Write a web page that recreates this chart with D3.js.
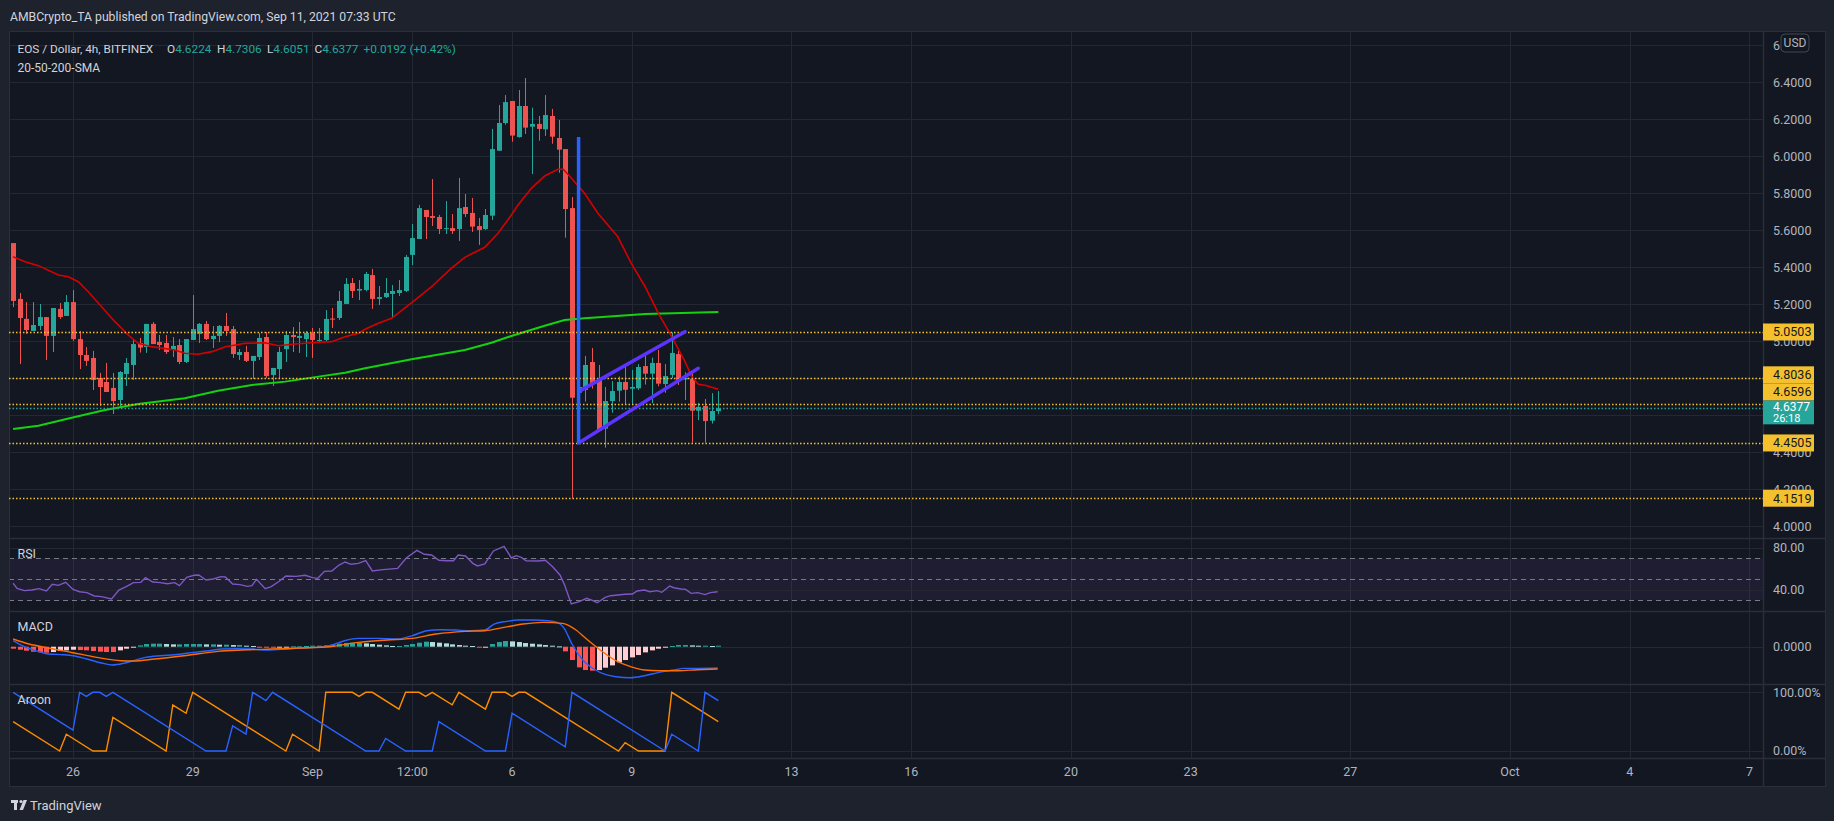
<!DOCTYPE html>
<html><head><meta charset="utf-8">
<script src="https://cdn.jsdelivr.net/npm/d3@7"></script>
<style>
html,body{margin:0;padding:0;background:#1e222d;overflow:hidden}
svg{display:block}
text{font-family:Roboto,"Noto Sans",sans-serif}
</style></head><body>
<svg id="c" width="1834" height="821"></svg>
<script>
// ---------------- DATA ----------------
const firstCandle = Date.UTC(2021, 7, 24, 12); // Aug 24 12:00 UTC, 4h candles
const opens = [5.531,5.229,5.121,5.056,5.083,5.131,5.029,5.175,5.137,5.212,
5.012,4.926,4.910,4.802,4.780,4.748,4.683,4.823,4.872,4.991,
4.969,5.094,4.996,4.991,4.953,4.980,4.888,5.007,5.040,5.094,
5.012,5.029,5.083,5.066,4.926,4.942,4.894,4.915,5.023,4.818,
4.850,4.958,5.034,5.018,5.012,5.045,5.002,5.007,5.123,5.126,
5.202,5.315,5.274,5.277,5.358,5.229,5.239,5.256,5.261,5.272,
5.467,5.553,5.710,5.677,5.672,5.607,5.612,5.607,5.726,5.694,
5.623,5.607,5.679,6.030,6.180,6.299,6.104,6.272,6.160,6.175,
6.146,6.218,6.099,6.039,5.720,4.722,4.737,4.888,4.796,4.528,
4.677,4.733,4.780,4.744,4.746,4.866,4.825,4.883,4.769,4.818,
4.931,4.794,4.796,4.625,4.650,4.571,4.6224];
const highs = [5.531,5.261,5.212,5.212,5.202,5.131,5.180,5.207,5.250,5.277,
5.056,4.969,4.948,4.829,4.883,4.829,4.839,4.910,5.007,5.018,
5.094,5.104,5.034,5.034,5.023,5.012,5.012,5.250,5.099,5.110,
5.083,5.088,5.153,5.083,4.958,4.975,4.921,5.045,5.050,4.856,
4.969,5.056,5.077,5.104,5.056,5.072,5.072,5.169,5.180,5.272,
5.342,5.342,5.331,5.375,5.391,5.299,5.342,5.304,5.331,5.467,
5.634,5.737,5.710,5.877,5.683,5.758,5.688,5.883,5.796,5.775,
5.667,5.715,6.148,6.277,6.331,6.299,6.358,6.423,6.263,6.218,
6.331,6.256,6.196,6.039,5.780,4.893,4.921,4.964,4.872,4.753,
4.785,4.810,4.877,4.845,4.877,4.928,4.912,4.953,4.877,5.048,
4.949,4.832,4.827,4.667,4.688,4.720,4.7306];
const lows = [5.185,4.877,5.040,5.056,5.061,4.899,4.942,5.121,5.137,5.002,
4.850,4.867,4.737,4.650,4.726,4.607,4.640,4.758,4.791,4.939,
4.937,4.985,4.953,4.931,4.915,4.877,4.883,5.007,4.991,5.007,
4.964,4.996,5.029,4.910,4.899,4.888,4.796,4.899,4.802,4.758,
4.796,4.888,4.942,4.937,4.915,4.910,4.996,5.002,5.072,5.115,
5.202,5.234,5.223,5.270,5.175,5.196,5.234,5.126,5.245,5.266,
5.412,5.553,5.553,5.623,5.580,5.580,5.580,5.542,5.672,5.591,
5.521,5.602,5.656,6.030,6.171,6.079,6.101,6.121,5.904,6.084,
6.110,6.068,5.911,5.560,4.1519,4.634,4.674,4.744,4.511,4.425,
4.614,4.674,4.661,4.661,4.737,4.766,4.665,4.757,4.722,4.800,
4.764,4.683,4.452,4.574,4.452,4.555,4.6051];
const closes = [5.218,5.126,5.061,5.088,5.131,5.029,5.180,5.131,5.212,5.012,
4.926,4.894,4.791,4.753,4.726,4.677,4.834,4.883,4.985,4.966,
5.094,4.985,4.980,4.942,4.975,4.888,5.012,5.066,5.094,5.012,
5.029,5.083,5.056,4.931,4.942,4.894,4.921,5.018,4.812,4.856,
4.942,5.034,5.023,5.029,5.045,5.007,5.007,5.121,5.117,5.218,
5.310,5.272,5.283,5.364,5.229,5.239,5.261,5.272,5.277,5.456,
5.558,5.720,5.672,5.667,5.607,5.612,5.596,5.720,5.688,5.620,
5.602,5.683,6.039,6.180,6.293,6.112,6.272,6.155,6.175,6.148,
6.223,6.106,6.036,5.715,4.695,4.753,4.872,4.775,4.517,4.677,
4.731,4.780,4.738,4.753,4.861,4.825,4.883,4.771,4.812,4.937,
4.787,4.803,4.625,4.645,4.569,4.623,4.6377];

// SMA lines: [candle index, value]
const sma20 = [[0,5.457],[1.8,5.430],[3.8,5.409],[6.8,5.358],[8.3,5.349],[9.8,5.322],[11.3,5.268],[13.3,5.187],[15.3,5.106],[17.3,5.034],[18.8,4.989],[20.8,4.971],[24.3,4.953],[25.8,4.935],[27.8,4.930],[29.9,4.944],[31.9,4.971],[34.9,4.989],[37.9,4.992],[39.9,4.976],[41.9,4.984],[45.9,4.995],[47.9,4.998],[49.9,5.025],[51.9,5.043],[52.9,5.065],[54.9,5.097],[56.9,5.124],[60.4,5.223],[62.9,5.295],[65.9,5.395],[67.9,5.454],[70.9,5.508],[72.9,5.584],[74.9,5.683],[75.9,5.737],[77.9,5.827],[79.9,5.894],[81.9,5.930],[82.7,5.930],[83.5,5.899],[85.9,5.800],[87.9,5.692],[90.9,5.565],[92.9,5.422],[95,5.295],[97,5.151],[99,5.025],[101,4.890],[102,4.809],[103,4.768],[104,4.762],[106,4.741]];
const sma200 = [[0,4.526],[3.8,4.544],[8.8,4.587],[13.8,4.629],[18.8,4.661],[25.8,4.692],[30.8,4.733],[35.9,4.764],[40.9,4.782],[45.9,4.809],[49.9,4.830],[52.9,4.854],[59.9,4.903],[67.9,4.953],[71.9,4.992],[74.9,5.029],[79.9,5.084],[82.9,5.115],[85.9,5.124],[95,5.148],[106,5.158]];

// Horizontal levels
const levels = [5.0503, 4.8036, 4.6596, 4.4505, 4.1519];
const lastPrice = 4.6377;
const countdown = "26:18";

// Flag drawing: pole and channel, [candle index, price]
const flagPole = [[85, 6.104], [85, 4.4505]];
const channelUpper = [[85, 4.728], [101, 5.052]];
const channelLower = [[85, 4.4505], [103, 4.854]];

// RSI [candle index, value]
const rsi = [[0,46.2],[0.6,41.4],[1.7,39.2],[2.8,39.8],[3.9,41.1],[5,38.9],[5.9,45.2],[6.8,44.2],[7.9,47.1],[9,40.4],[10,38.2],[11.1,37.3],[12.2,34.1],[13.3,33.5],[14.8,31.2],[15.9,39.8],[17,43],[18.1,46.8],[19.2,47.1],[19.9,51.6],[21,47.4],[22.1,46.8],[23.2,45.8],[24.3,46.8],[25,43.9],[26.1,51.9],[27.2,53.8],[27.9,54.1],[29,49.3],[30.1,50.3],[31.2,52.5],[31.9,52.2],[33,45.5],[34.1,44.9],[35.2,43.3],[35.9,43.9],[36.6,50],[37.9,41.1],[38.8,43],[39.9,47.7],[41,53.1],[42.5,52.8],[43.9,53.8],[45,51.6],[45.8,50.9],[46.8,57.6],[47.9,57.9],[49,63.6],[49.9,66.5],[50.8,64.3],[51.9,65.2],[53,67.7],[54,57.9],[55.6,59.2],[57.8,60.4],[59.1,70.3],[60.7,77.6],[61.8,73.8],[62.9,73.1],[64,68.1],[65.1,67.7],[66.2,67.7],[66.9,73.1],[68,72.2],[69.1,65.2],[69.8,62.7],[70.9,64.6],[72.2,77],[73.8,81.4],[74.9,70.3],[75.6,72.5],[76.4,70.9],[77.1,67.7],[78.9,67.4],[80,68.1],[81.1,62],[82.2,54.1],[82.9,44.6],[83.9,26.5],[85.1,28.7],[86.2,31.9],[86.9,30.3],[87.8,27.7],[89,32.8],[89.8,34.4],[90.9,35],[92,35.7],[93.1,36],[93.8,38.9],[94.9,39.8],[95.7,38.2],[96.8,39.2],[97.5,37.6],[98.7,43.6],[99.3,42],[100.4,40.8],[101.1,40.4],[101.9,36.6],[102.9,37.3],[104,35.4],[104.8,37.3],[105.9,38.2]];
const rsiBands = [70, 50, 30];

// MACD [candle index, value]
const macdLine = [[0,0.054],[1.7,0],[3.9,-0.045],[5.3,-0.066],[7.5,-0.072],[9,-0.081],[11.1,-0.111],[13.3,-0.147],[14.9,-0.165],[16.6,-0.150],[18.1,-0.126],[19.9,-0.096],[22.1,-0.081],[24.3,-0.072],[27.2,-0.051],[29.4,-0.036],[31.5,-0.021],[33.7,-0.018],[35.9,-0.021],[38.1,-0.030],[40.3,-0.024],[43.2,-0.012],[45.4,-0.006],[47.6,0.009],[49.8,0.054],[51.9,0.075],[54.9,0.075],[57.8,0.069],[60,0.099],[62.2,0.144],[64.3,0.153],[66.5,0.150],[68.7,0.144],[70.9,0.150],[72.3,0.204],[74.2,0.228],[76,0.240],[78.2,0.240],[80.4,0.234],[81.8,0.219],[82.9,0.159],[84,0.024],[85.5,-0.111],[87.3,-0.201],[89.1,-0.252],[90.6,-0.270],[92.8,-0.279],[94.9,-0.261],[97.1,-0.231],[99.3,-0.210],[100.8,-0.195],[102.9,-0.195],[105.9,-0.192]];
const signalLine = [[0,0.069],[2.4,0.024],[5.3,-0.012],[9,-0.054],[12.6,-0.096],[16.2,-0.126],[18.1,-0.129],[21.3,-0.111],[25.7,-0.081],[30.8,-0.042],[34.5,-0.030],[38.8,-0.021],[43.2,-0.012],[47.6,0],[51.9,0.039],[56.3,0.060],[60,0.075],[63.6,0.114],[67.9,0.138],[70.9,0.144],[73.8,0.174],[76.7,0.204],[79.6,0.219],[82.6,0.210],[84.4,0.159],[86.2,0.069],[88.4,-0.036],[90.6,-0.126],[92.8,-0.180],[94.9,-0.210],[97.1,-0.216],[100,-0.216],[102.9,-0.207],[105.9,-0.201]];
const macdHist = [-0.018,-0.027,-0.036,-0.045,-0.051,-0.054,-0.048,-0.039,-0.033,-0.027,
-0.030,-0.033,-0.039,-0.045,-0.048,-0.048,-0.033,-0.018,-0.003,0.012,
0.024,0.027,0.027,0.024,0.021,0.021,0.024,0.024,0.024,0.021,
0.021,0.018,0.018,0.015,0.015,0.009,0.006,-0.003,-0.009,-0.009,
-0.006,-0.003,0.003,0.003,0.006,0.009,0.009,0.012,0.018,0.027,
0.033,0.036,0.036,0.030,0.024,0.018,0.012,0.006,0.006,0.015,
0.024,0.036,0.045,0.042,0.036,0.030,0.021,0.015,0.009,0.006,
-0.006,-0.003,0.024,0.042,0.051,0.048,0.042,0.033,0.027,0.021,
0.015,0.009,0.003,-0.042,-0.120,-0.186,-0.210,-0.216,-0.210,-0.189,
-0.168,-0.141,-0.120,-0.096,-0.075,-0.051,-0.033,-0.018,-0.006,0.006,
0.015,0.015,0.012,0.009,0.009,0.006,0.009];

// Aroon [candle index, value]
const aroonUp = [[0,50],[7,0],[8,28.6],[12,0],[14,0],[15,57.1],[23,0],[24,78.6],[25,71.4],[26,64.3],[27,100],[41,0],[42,28.6],[46,0],[47,100],[51,100],[52,92.9],[53,100],[54,100],[58,71.4],[59,100],[61,100],[62,92.9],[63,100],[66,78.6],[67,100],[71,71.4],[72,100],[74,100],[75,92.9],[76,100],[77,100],[91,0],[92,14.3],[94,0],[98,0],[99,100],[106,50]];
const aroonDown = [[0,100],[8,42.9],[9,35.7],[10,100],[11,92.9],[12,100],[13,100],[14,92.9],[15,100],[29,0],[32,0],[33,42.9],[35,28.6],[36,100],[37,92.9],[38,85.7],[39,100],[53,0],[55,0],[56,21.4],[59,0],[63,0],[64,50],[71,0],[74,0],[75,64.3],[83,7.1],[84,100],[98,0],[99,28.6],[103,0],[104,100],[106,85.7]];

// Axis tick labels
const priceTicks = [4.0,4.2,4.4,4.6,4.8,5.0,5.2,5.4,5.6,5.8,6.0,6.2,6.4,6.6];
const timeTicks = [[2021,7,26,0,"26"],[2021,7,29,0,"29"],[2021,8,1,0,"Sep"],[2021,8,3,12,"12:00"],[2021,8,6,0,"6"],[2021,8,9,0,"9"],[2021,8,13,0,"13"],[2021,8,16,0,"16"],[2021,8,20,0,"20"],[2021,8,23,0,"23"],[2021,8,27,0,"27"],[2021,9,1,0,"Oct"],[2021,9,4,0,"4"],[2021,9,7,0,"7"]];

const headerText = "AMBCrypto_TA published on TradingView.com, Sep 11, 2021 07:33 UTC";
const symbolText = "EOS / Dollar, 4h, BITFINEX";
const ohlcLegend = [["O","4.6224"],["H","4.7306"],["L","4.6051"],["C","4.6377"]];
const changeText = "+0.0192 (+0.42%)";
const indicatorName = "20-50-200-SMA";

// ---------------- LAYOUT ----------------
const W = 1834, H = 821;
const frame = {l: 9, r: 1826, t: 31, b: 787};
const plotR = 1763;
const panes = {
  price: [31, 538], rsi: [538, 611], macd: [611, 684], aroon: [684, 758]
};
const legendSlots = [167, 217, 267, 314.5, 363.5]; // x of O, H, L, C and change
const C = {
  bg: "#131722", page: "#1e222d", grid: "#242832", border: "#2a2e39",
  text: "#b2b5be", up: "#26a69a", down: "#ef5350", level: "#f5c02e"
};

const svg = d3.select("#c");
const tOf = i => new Date(firstCandle + i * 4 * 3600e3);
const x = d3.scaleUtc().domain([tOf(0), tOf(106)]).range([13.1, 718.3]);
const xi = i => x(tOf(i));
const yP = d3.scaleLinear().domain([6.4, 4.0]).range([82.3, 526.3]);
const yR = d3.scaleLinear().domain([70, 30]).range([558.3, 600.3]);
const yM = d3.scaleLinear().domain([0, 0.18]).range([646.7, 626.7]);
const yA = d3.scaleLinear().domain([0, 100]).range([751, 692.3]);

svg.append("rect").attr("width", W).attr("height", H).attr("fill", C.page);
svg.append("rect").attr("x", frame.l).attr("y", frame.t).attr("width", frame.r - frame.l)
  .attr("height", frame.b - frame.t).attr("fill", C.bg);

// clip paths per pane
const defs = svg.append("defs");
Object.entries(panes).forEach(([k, [a, b]]) => {
  defs.append("clipPath").attr("id", "clip-" + k).append("rect")
    .attr("x", frame.l).attr("y", a + 1).attr("width", plotR - frame.l).attr("height", b - a - 1);
});
defs.append("clipPath").attr("id", "clip-usd").append("rect")
  .attr("x", plotR).attr("y", frame.t).attr("width", 1781 - plotR).attr("height", 30);

// ---- grid ----
const grid = svg.append("g");
timeTicks.forEach(d => {
  const xx = Math.round(x(new Date(Date.UTC(d[0], d[1], d[2], d[3])))) + 0.5;
  grid.append("line").attr("x1", xx).attr("x2", xx).attr("y1", frame.t).attr("y2", panes.aroon[1])
    .attr("stroke", C.grid).attr("stroke-width", 1);
});
const gPriceGrid = svg.append("g").attr("clip-path", "url(#clip-price)");
priceTicks.forEach(p => {
  const yy = Math.round(yP(p)) + 0.5;
  gPriceGrid.append("line").attr("x1", frame.l).attr("x2", plotR).attr("y1", yy).attr("y2", yy)
    .attr("stroke", C.grid);
});
// RSI grid and band
const gR = svg.append("g").attr("clip-path", "url(#clip-rsi)");
gR.append("rect").attr("x", frame.l).attr("width", plotR - frame.l)
  .attr("y", yR(70)).attr("height", yR(30) - yR(70)).attr("fill", "rgba(126,87,194,0.10)");
[80, 40].forEach(v => gR.append("line").attr("x1", frame.l).attr("x2", plotR)
  .attr("y1", Math.round(yR(v)) + 0.5).attr("y2", Math.round(yR(v)) + 0.5).attr("stroke", C.grid));
rsiBands.forEach(v => gR.append("line").attr("x1", frame.l).attr("x2", plotR)
  .attr("y1", Math.round(yR(v)) + 0.5).attr("y2", Math.round(yR(v)) + 0.5)
  .attr("stroke", "#787b86").attr("stroke-dasharray", "5,4").attr("stroke-width", 1));
// MACD zero grid
svg.append("line").attr("x1", frame.l).attr("x2", plotR).attr("y1", Math.round(yM(0)) + 0.5)
  .attr("y2", Math.round(yM(0)) + 0.5).attr("stroke", C.grid);
// Aroon grid
[0, 100].forEach(v => svg.append("line").attr("x1", frame.l).attr("x2", plotR)
  .attr("y1", Math.round(yA(v)) + 0.5).attr("y2", Math.round(yA(v)) + 0.5).attr("stroke", C.grid));

// pane separators
[panes.price[1], panes.rsi[1], panes.macd[1], panes.aroon[1]].forEach(yy => {
  svg.append("line").attr("x1", frame.l).attr("x2", frame.r).attr("y1", yy + 0.5).attr("y2", yy + 0.5)
    .attr("stroke", C.border).attr("stroke-width", 1.5);
});
svg.append("line").attr("x1", plotR + 0.5).attr("x2", plotR + 0.5).attr("y1", frame.t).attr("y2", frame.b)
  .attr("stroke", C.border).attr("stroke-width", 1.5);
svg.append("rect").attr("x", frame.l + 0.5).attr("y", frame.t + 0.5).attr("width", frame.r - frame.l - 1)
  .attr("height", frame.b - frame.t - 1).attr("fill", "none").attr("stroke", C.border);

// ---- price pane ----
const gP = svg.append("g").attr("clip-path", "url(#clip-price)");
const candles = d3.range(opens.length).map(i => ({i, o: opens[i], h: highs[i], l: lows[i], c: closes[i]}));
const cg = gP.append("g");
candles.forEach(d => {
  const cx = xi(d.i), col = d.c >= d.o ? C.up : C.down;
  const wx = Math.round(cx) + 0.5;
  cg.append("line").attr("x1", wx).attr("x2", wx).attr("y1", yP(d.h)).attr("y2", yP(d.l))
    .attr("stroke", col).attr("stroke-width", 1);
  const top = yP(Math.max(d.o, d.c)), bot = yP(Math.min(d.o, d.c));
  cg.append("rect").attr("x", Math.round(cx) - 2).attr("width", 5)
    .attr("y", top).attr("height", Math.max(1, bot - top)).attr("fill", col);
});
const lineP = d3.line().x(d => xi(d[0])).y(d => yP(d[1]));
gP.append("path").attr("d", lineP(sma200)).attr("fill", "none").attr("stroke", "#14d20f").attr("stroke-width", 2);
gP.append("path").attr("d", lineP(sma20)).attr("fill", "none").attr("stroke", "#d60000").attr("stroke-width", 1.6);

// dotted levels
levels.forEach(p => gP.append("line").attr("x1", frame.l).attr("x2", plotR)
  .attr("y1", Math.round(yP(p)) + 0.5).attr("y2", Math.round(yP(p)) + 0.5)
  .attr("stroke", C.level).attr("stroke-width", 1.5).attr("stroke-dasharray", "1.5,2"));
gP.append("line").attr("x1", frame.l).attr("x2", plotR)
  .attr("y1", Math.round(yP(lastPrice)) + 0.5).attr("y2", Math.round(yP(lastPrice)) + 0.5)
  .attr("stroke", C.up).attr("stroke-width", 1.5).attr("stroke-dasharray", "1.5,2");

// flag drawing
gP.append("path").attr("d", lineP(channelUpper)).attr("stroke", "#5b34ff").attr("stroke-width", 3.5).attr("stroke-linecap", "round");
gP.append("path").attr("d", lineP(channelLower)).attr("stroke", "#5b34ff").attr("stroke-width", 3.5).attr("stroke-linecap", "round");
gP.append("path").attr("d", lineP(flagPole)).attr("stroke", "#2962ff").attr("stroke-width", 3.5);

// ---- RSI ----
gR.append("path").attr("d", d3.line().x(d => xi(d[0])).y(d => yR(d[1]))(rsi))
  .attr("fill", "none").attr("stroke", "#7e57c2").attr("stroke-width", 1.4);

// ---- MACD ----
const gM = svg.append("g").attr("clip-path", "url(#clip-macd)");
macdHist.forEach((v, i) => {
  const prev = i > 0 ? macdHist[i - 1] : v;
  let col;
  if (v >= 0) col = v >= prev ? "#26a69a" : "#b2dfdb";
  else col = v <= prev ? "#ff5252" : "#ffcdd2";
  const y0 = yM(0), y1 = yM(v);
  gM.append("rect").attr("x", Math.round(xi(i)) - 2).attr("width", 5)
    .attr("y", Math.min(y0, y1)).attr("height", Math.max(1, Math.abs(y1 - y0))).attr("fill", col);
});
const lineM = d3.line().x(d => xi(d[0])).y(d => yM(d[1])).curve(d3.curveMonotoneX);
gM.append("path").attr("d", lineM(macdLine)).attr("fill", "none").attr("stroke", "#2962ff").attr("stroke-width", 1.4);
gM.append("path").attr("d", lineM(signalLine)).attr("fill", "none").attr("stroke", "#ff6d00").attr("stroke-width", 1.4);

// ---- Aroon ----
const gA = svg.append("g").attr("clip-path", "url(#clip-aroon)");
const lineA = d3.line().x(d => xi(d[0])).y(d => yA(d[1]));
gA.append("path").attr("d", lineA(aroonUp)).attr("fill", "none").attr("stroke", "#fb8c00").attr("stroke-width", 1.4);
gA.append("path").attr("d", lineA(aroonDown)).attr("fill", "none").attr("stroke", "#2962ff").attr("stroke-width", 1.4);

// ---- badges (stacked so they don't overlap) ----
const axisX = 1773;
const badges = levels.map(p => ({p, y: yP(p), h: 17, fill: C.level, color: "#131722", lines: [p.toFixed(4)]}));
badges.push({p: lastPrice, y: yP(lastPrice) + 3, h: 24, fill: C.up, color: "#ffffff", lines: [lastPrice.toFixed(4), countdown], last: true});
badges.sort((a, b) => b.y - a.y);
let limit = Infinity;
badges.forEach(b => {
  let top = b.last ? b.y - 11 : b.y - b.h / 2;
  if (top + b.h > limit) top = limit - b.h;
  b.top = top; limit = top;
});

// ---- axis labels ----
const gAx = svg.append("g").attr("font-size", 12.5).attr("fill", C.text);
priceTicks.forEach(p => {
  const yy = yP(p);
  const hidden = badges.some(b => yy > b.top + 2 && yy < b.top + b.h - 2);
  if (hidden) return;
  const t = gAx.append("text").attr("x", axisX).attr("y", yy).attr("dy", "0.35em").text(p.toFixed(4));
  if (yy < 52) t.attr("clip-path", "url(#clip-usd)");
});
[80, 40].forEach(v => gAx.append("text").attr("x", axisX).attr("y", yR(v)).attr("dy", "0.35em").text(v.toFixed(2)));
gAx.append("text").attr("x", axisX).attr("y", yM(0)).attr("dy", "0.35em").text("0.0000");
gAx.append("text").attr("x", axisX).attr("y", yA(100)).attr("dy", "0.35em").text("100.00%");
gAx.append("text").attr("x", axisX).attr("y", yA(0)).attr("dy", "0.35em").text("0.00%");

// USD button
svg.append("rect").attr("x", 1781).attr("y", 34).attr("width", 28).attr("height", 18).attr("rx", 4)
  .attr("fill", C.bg).attr("stroke", "#434651");
svg.append("text").attr("x", 1795).attr("y", 43).attr("dy", "0.35em").attr("text-anchor", "middle")
  .attr("font-size", 12).attr("fill", C.text).text("USD");

badges.forEach(b => {
  svg.append("rect").attr("x", plotR).attr("y", b.top).attr("width", 51).attr("height", b.h).attr("fill", b.fill);
  if (b.lines.length === 1) {
    svg.append("text").attr("x", axisX).attr("y", b.top + b.h / 2).attr("dy", "0.35em")
      .attr("font-size", 12.5).attr("fill", b.color).text(b.lines[0]);
  } else {
    svg.append("text").attr("x", axisX).attr("y", b.top + 6.5).attr("dy", "0.35em")
      .attr("font-size", 12).attr("fill", b.color).text(b.lines[0]);
    svg.append("text").attr("x", axisX).attr("y", b.top + 18).attr("dy", "0.35em")
      .attr("font-size", 11).attr("fill", b.color).text(b.lines[1]);
  }
});

// time axis labels
timeTicks.forEach(d => {
  svg.append("text").attr("x", x(new Date(Date.UTC(d[0], d[1], d[2], d[3])))).attr("y", 772)
    .attr("dy", "0.35em").attr("text-anchor", "middle").attr("font-size", 12.5).attr("fill", C.text).text(d[4]);
});

// header & legends
svg.append("text").attr("x", 10).attr("y", 17).attr("dy", "0.35em").attr("font-size", 12.2)
  .attr("fill", "#d1d4dc").text(headerText);
const legY = 49;
svg.append("text").attr("x", 17.5).attr("y", legY).attr("dy", "0.35em").attr("font-size", 11.8)
  .attr("fill", "#d1d4dc").text(symbolText);
ohlcLegend.forEach(([k, v], j) => {
  const t = svg.append("text").attr("x", legendSlots[j]).attr("y", legY).attr("dy", "0.35em").attr("font-size", 11.8);
  t.append("tspan").attr("fill", "#d1d4dc").text(k);
  t.append("tspan").attr("fill", C.up).text(v);
});
svg.append("text").attr("x", legendSlots[4]).attr("y", legY).attr("dy", "0.35em").attr("font-size", 11.8)
  .attr("fill", C.up).text(changeText);
svg.append("text").attr("x", 17.5).attr("y", 68).attr("dy", "0.35em").attr("font-size", 12).attr("fill", "#d1d4dc").text(indicatorName);
[["RSI", panes.rsi[0]], ["MACD", panes.macd[0]], ["Aroon", panes.aroon[0]]].forEach(([t, y0]) => {
  svg.append("text").attr("x", 17.5).attr("y", y0 + 15.5).attr("dy", "0.35em").attr("font-size", 12.5).attr("fill", "#d1d4dc").text(t);
});

// footer logo
const lg = svg.append("g").attr("fill", "#d1d4dc");
lg.append("rect").attr("x", 11).attr("y", 800).attr("width", 7).attr("height", 3);
lg.append("rect").attr("x", 14).attr("y", 800).attr("width", 3).attr("height", 10);
lg.append("circle").attr("cx", 21).attr("cy", 801.5).attr("r", 1.6);
lg.append("path").attr("d", "M23.5,800 L27,800 L23,810 L19.5,810 Z");
svg.append("text").attr("x", 30).attr("y", 805).attr("dy", "0.35em").attr("font-size", 13).attr("fill", "#d1d4dc").text("TradingView");
</script>
</body></html>
